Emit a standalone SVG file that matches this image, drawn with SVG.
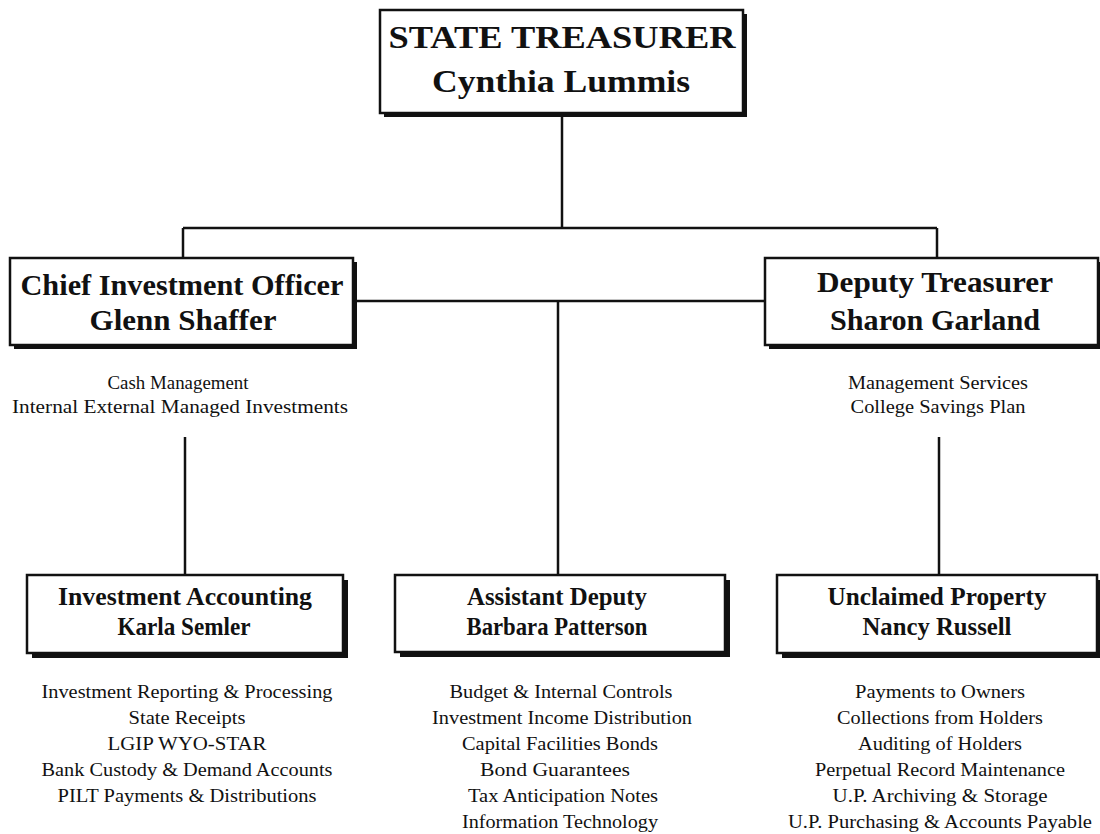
<svg xmlns="http://www.w3.org/2000/svg" width="1100" height="834" viewBox="0 0 1100 834">
<style>
.shadow{fill:#111;}
.box{fill:#fff;stroke:#111;stroke-width:2.5;}
.t{font-family:"Liberation Serif","Times New Roman",serif;font-weight:bold;fill:#111;text-anchor:middle;}
.s{font-family:"Liberation Serif","Times New Roman",serif;font-size:18px;fill:#111;text-anchor:middle;}
.c{stroke:#111;stroke-width:2.5;fill:none;}
</style>
<rect width="1100" height="834" fill="#fff"/>
<g id="connectors">
<line class="c" x1="562" y1="115" x2="562" y2="228"/>
<line class="c" x1="183" y1="228" x2="937" y2="228"/>
<line class="c" x1="183" y1="228" x2="183" y2="258"/>
<line class="c" x1="937" y1="228" x2="937" y2="258"/>
<line class="c" x1="355" y1="301" x2="765" y2="301"/>
<line class="c" x1="558" y1="301" x2="558" y2="575"/>
<line class="c" x1="185" y1="437" x2="185" y2="575"/>
<line class="c" x1="939" y1="437" x2="939" y2="575"/>
</g>
<g id="state-treasurer">
<rect class="shadow" x="384" y="14" width="363" height="103"/>
<rect class="box" x="380" y="10" width="363" height="103"/>
<text class="t" x="562" y="48" font-size="32" textLength="347" lengthAdjust="spacingAndGlyphs">STATE TREASURER</text>
<text class="t" x="561" y="92" font-size="32" textLength="258" lengthAdjust="spacingAndGlyphs">Cynthia Lummis</text>
</g>
<g id="chief-investment-officer">
<rect class="shadow" x="14" y="262" width="343" height="87"/>
<rect class="box" x="10" y="258" width="343" height="87"/>
<text class="t" x="182" y="295" font-size="30" textLength="323" lengthAdjust="spacingAndGlyphs">Chief Investment Officer</text>
<text class="t" x="183" y="330" font-size="30" textLength="187" lengthAdjust="spacingAndGlyphs">Glenn Shaffer</text>
<text class="s" x="178" y="389" textLength="141" lengthAdjust="spacingAndGlyphs">Cash Management</text>
<text class="s" x="180" y="413" textLength="336" lengthAdjust="spacingAndGlyphs">Internal External Managed Investments</text>
</g>
<g id="deputy-treasurer">
<rect class="shadow" x="769" y="262" width="333" height="87"/>
<rect class="box" x="765" y="258" width="333" height="87"/>
<text class="t" x="935" y="292" font-size="30" textLength="236" lengthAdjust="spacingAndGlyphs">Deputy Treasurer</text>
<text class="t" x="935" y="330" font-size="30" textLength="210" lengthAdjust="spacingAndGlyphs">Sharon Garland</text>
<text class="s" x="938" y="389" textLength="180" lengthAdjust="spacingAndGlyphs">Management Services</text>
<text class="s" x="938" y="413" textLength="175" lengthAdjust="spacingAndGlyphs">College Savings Plan</text>
</g>
<g id="investment-accounting">
<rect class="shadow" x="32" y="580" width="316" height="78"/>
<rect class="box" x="27" y="575" width="316" height="78"/>
<text class="t" x="185" y="605" font-size="25" textLength="254" lengthAdjust="spacingAndGlyphs">Investment Accounting</text>
<text class="t" x="184" y="635" font-size="25" textLength="133" lengthAdjust="spacingAndGlyphs">Karla Semler</text>
<text class="s" x="187" y="698" textLength="291" lengthAdjust="spacingAndGlyphs">Investment Reporting &amp; Processing</text>
<text class="s" x="187" y="724" textLength="117" lengthAdjust="spacingAndGlyphs">State Receipts</text>
<text class="s" x="187" y="750" textLength="159" lengthAdjust="spacingAndGlyphs">LGIP WYO-STAR</text>
<text class="s" x="187" y="776" textLength="291" lengthAdjust="spacingAndGlyphs">Bank Custody &amp; Demand Accounts</text>
<text class="s" x="187" y="802" textLength="259" lengthAdjust="spacingAndGlyphs">PILT Payments &amp; Distributions</text>
</g>
<g id="assistant-deputy">
<rect class="shadow" x="400" y="580" width="330" height="77"/>
<rect class="box" x="395" y="575" width="330" height="77"/>
<text class="t" x="557" y="605" font-size="25" textLength="180" lengthAdjust="spacingAndGlyphs">Assistant Deputy</text>
<text class="t" x="557" y="635" font-size="25" textLength="181" lengthAdjust="spacingAndGlyphs">Barbara Patterson</text>
<text class="s" x="561" y="698" textLength="223" lengthAdjust="spacingAndGlyphs">Budget &amp; Internal Controls</text>
<text class="s" x="562" y="724" textLength="260" lengthAdjust="spacingAndGlyphs">Investment Income Distribution</text>
<text class="s" x="560" y="750" textLength="196" lengthAdjust="spacingAndGlyphs">Capital Facilities Bonds</text>
<text class="s" x="555" y="776" textLength="150" lengthAdjust="spacingAndGlyphs">Bond Guarantees</text>
<text class="s" x="563" y="802" textLength="190" lengthAdjust="spacingAndGlyphs">Tax Anticipation Notes</text>
<text class="s" x="560" y="828" textLength="196" lengthAdjust="spacingAndGlyphs">Information Technology</text>
</g>
<g id="unclaimed-property">
<rect class="shadow" x="782" y="580" width="320" height="78"/>
<rect class="box" x="777" y="575" width="320" height="78"/>
<text class="t" x="937" y="605" font-size="25" textLength="219" lengthAdjust="spacingAndGlyphs">Unclaimed Property</text>
<text class="t" x="937" y="635" font-size="25" textLength="149" lengthAdjust="spacingAndGlyphs">Nancy Russell</text>
<text class="s" x="940" y="698" textLength="170" lengthAdjust="spacingAndGlyphs">Payments to Owners</text>
<text class="s" x="940" y="724" textLength="206" lengthAdjust="spacingAndGlyphs">Collections from Holders</text>
<text class="s" x="940" y="750" textLength="164" lengthAdjust="spacingAndGlyphs">Auditing of Holders</text>
<text class="s" x="940" y="776" textLength="250" lengthAdjust="spacingAndGlyphs">Perpetual Record Maintenance</text>
<text class="s" x="940" y="802" textLength="215" lengthAdjust="spacingAndGlyphs">U.P. Archiving &amp; Storage</text>
<text class="s" x="940" y="828" textLength="304" lengthAdjust="spacingAndGlyphs">U.P. Purchasing &amp; Accounts Payable</text>
</g>
</svg>
